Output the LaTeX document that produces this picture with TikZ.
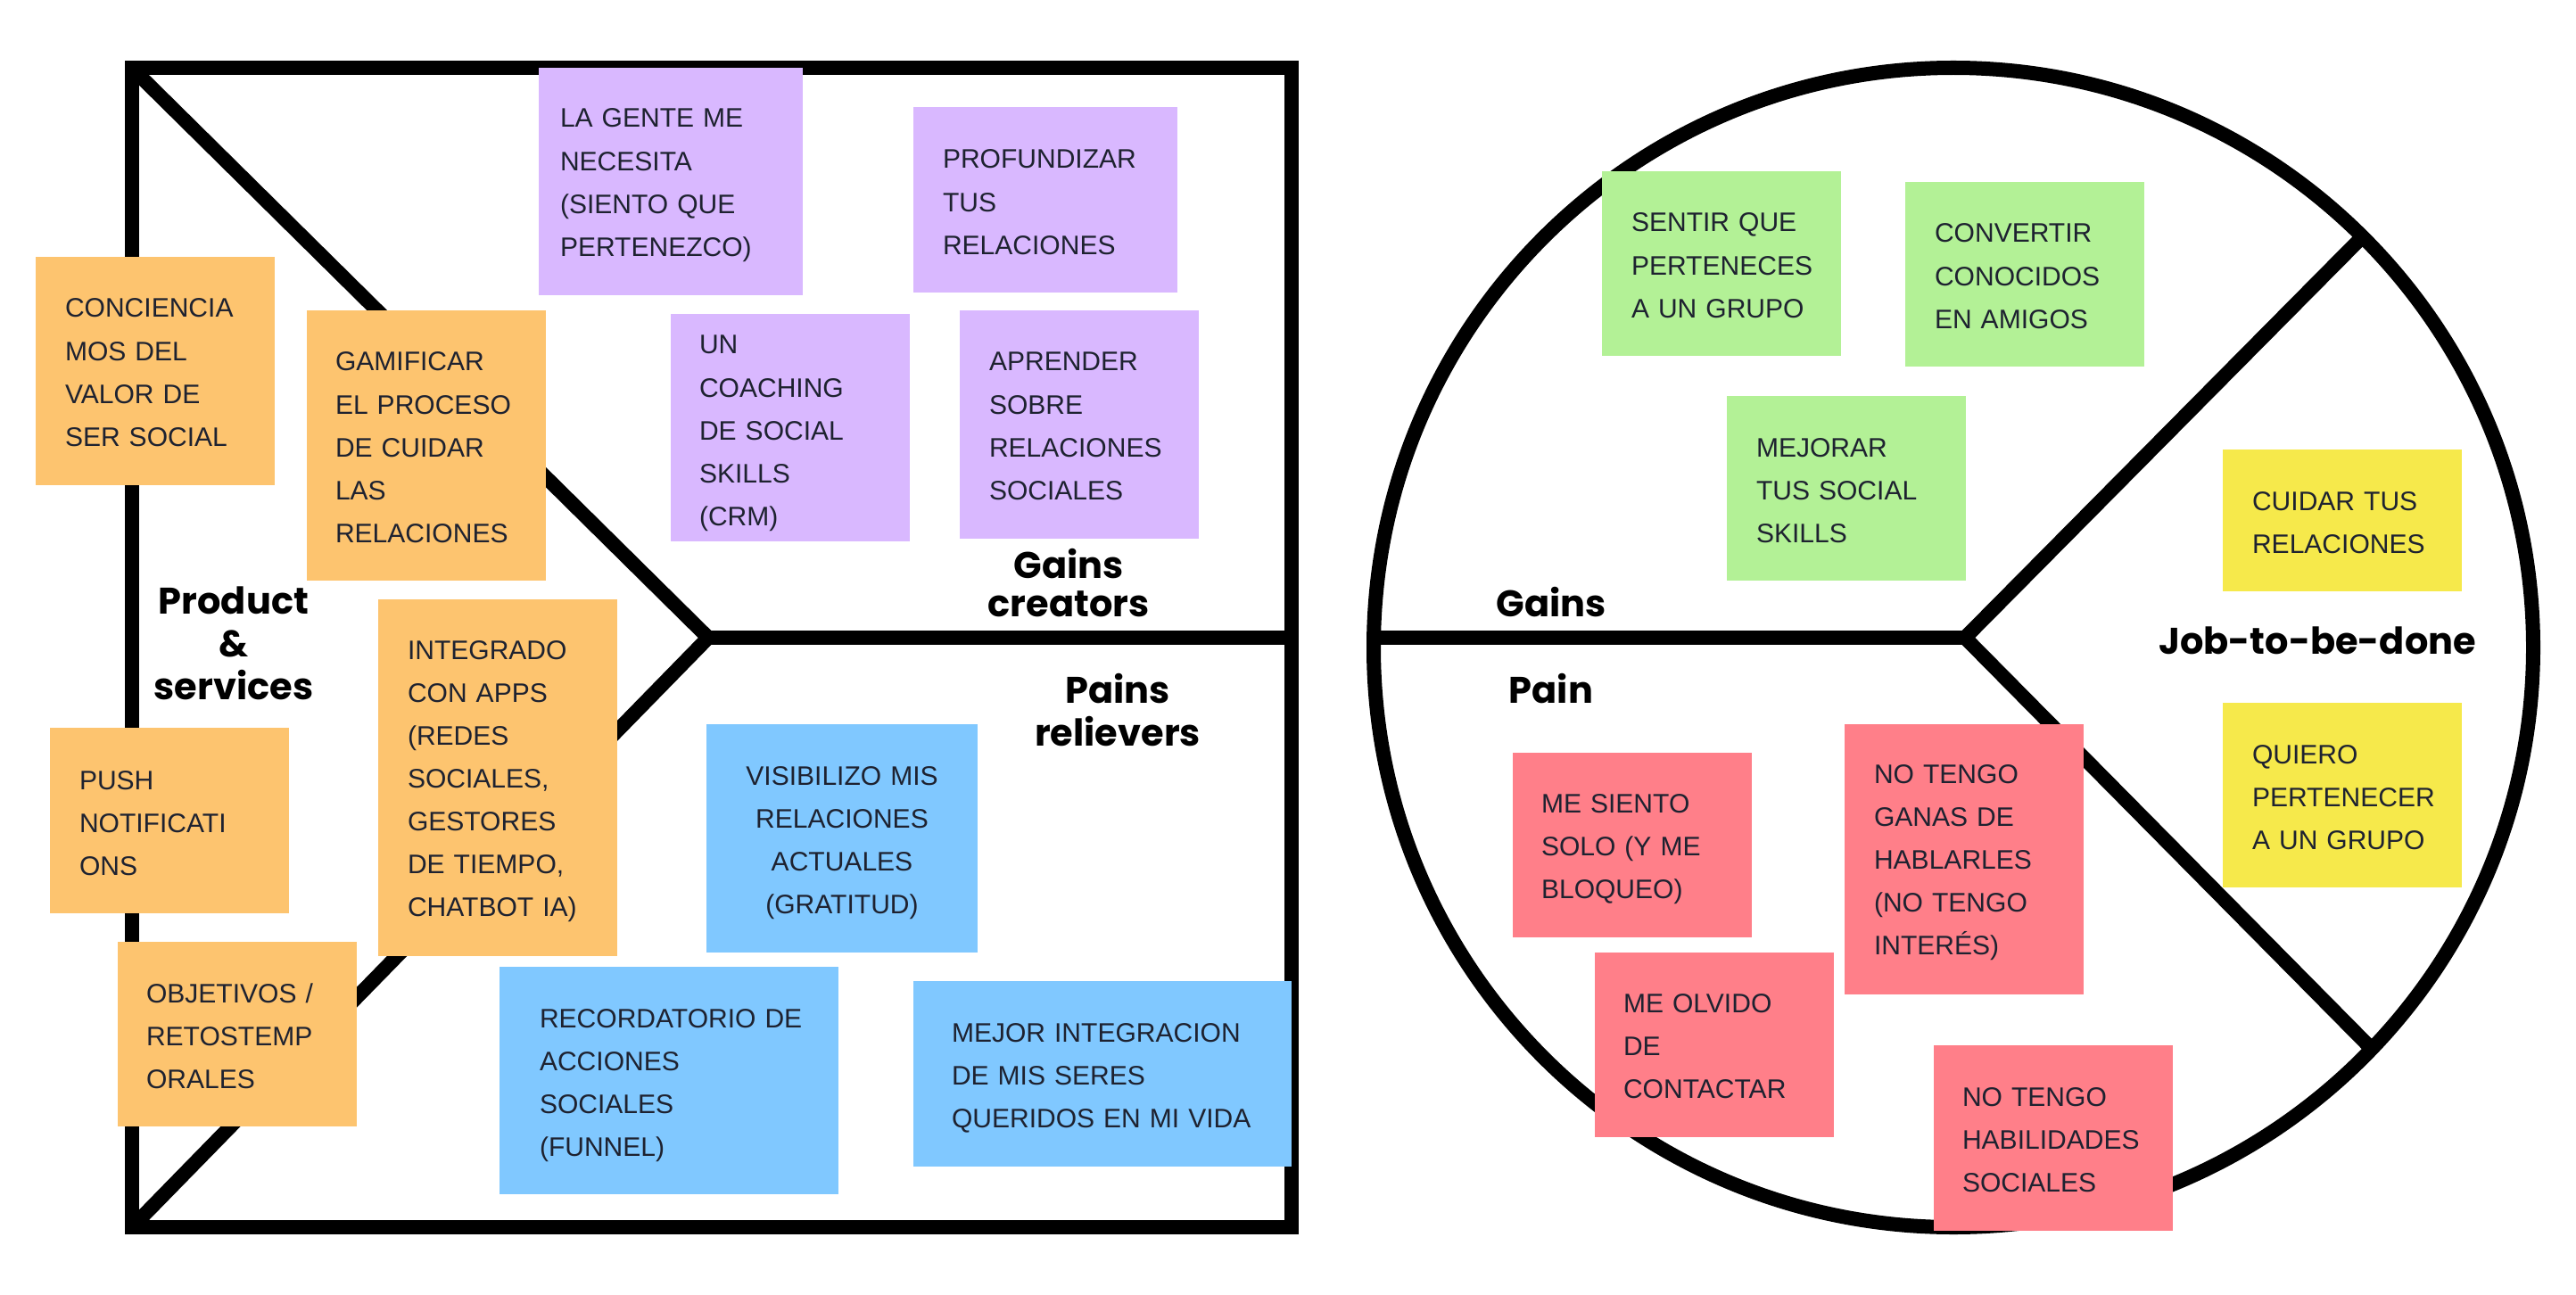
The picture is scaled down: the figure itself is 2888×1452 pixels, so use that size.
\documentclass[tikz,border=0pt]{standalone}
\usepackage{fontspec}
\setmainfont{Liberation Sans}
\newfontfamily\labelfont{Poppins}
\usetikzlibrary{fit}
\definecolor{orangenote}{HTML}{FDC46F}
\definecolor{purplenote}{HTML}{D9B8FF}
\definecolor{bluenote}{HTML}{80C8FF}
\definecolor{greennote}{HTML}{B3F196}
\definecolor{yellownote}{HTML}{F6E94B}
\definecolor{pinknote}{HTML}{FF7F89}
\definecolor{notecol}{HTML}{1E2230}
\newcommand\notefont{\fontsize{8.54pt}{13.66pt}\selectfont}
\newcommand\lblfont{\labelfont\bfseries\fontsize{11.8pt}{13.66pt}\selectfont}
\tikzset{
  notebox/.style={draw=none, inner sep=0pt, outer sep=0pt, rectangle},
  notetext/.style={inner sep=0pt, outer sep=0pt, text=notecol, font=\notefont,
    align=left, text width=4.6cm, anchor=base west},
  frame/.style={line width=0.16cm, draw=black, line join=miter},
  lbl/.style={inner sep=0pt, font=\lblfont, text=black},
  lblmulti/.style={lbl, align=center, text width=4cm, anchor=base},
}
\newcommand\sticky[9]{%
  \node[notebox, fill=#2, fit={(#3,#4) (#5,#6)}] (#1) {};
  \node[notetext] (#1-text) at (#7,#8) {#9};
}
\begin{document}
\begin{tikzpicture}[x=0.01cm,y=-0.01cm]
\fill[white] (0,0) rectangle (2888,1452);
\useasboundingbox (0,0) rectangle (2888,1452);
% ---------------- value map (square)
\coordinate (tl) at (148,76.5);
\coordinate (tr) at (1448,76.5);
\coordinate (br) at (1448,1376);
\coordinate (bl) at (148,1376);
\coordinate (vx) at (794,715);
\coordinate (mr) at (1448,715);
\draw[frame] (tl) -- (tr) -- (br) -- (bl) -- cycle;
\draw[frame] (tl) -- (vx) -- (bl);
\draw[frame] (vx) -- (mr);
% ---------------- customer profile (circle)
\coordinate (cc) at (2190,726);
\coordinate (cl) at (1540,715);
\coordinate (cv) at (2203,715);
\coordinate (cur) at (2646,268);
\coordinate (clr) at (2655,1172);
\draw[frame] (cc) circle[radius=650];
\draw[frame] (cl) -- (cv);
\draw[frame] (cur) -- (cv) -- (clr);
% ---------------- labels
\node[lblmulti] (lprod) at (262,688) {Product\\\&\\services};
\node[lblmulti, font=\labelfont\bfseries\fontsize{11.8pt}{12.3pt}\selectfont] (lgc) at (1198,648) {Gains\\creators};
\node[lblmulti] (lpr) at (1253,788) {Pains\\relievers};
\node[lbl, anchor=base west] (lgains) at (1677,691) {Gains};
\node[lbl, anchor=base west] (lpain) at (1691,788) {Pain};
\node[lbl, anchor=base] (ljob) at (2598,733) {Job-to-be-done};
% ---------------- orange notes
\sticky{o1}{orangenote}{40}{288}{308}{544}{73}{356}{CONCIENCIA\\MOS DEL\\VALOR DE\\SER SOCIAL}
\sticky{o2}{orangenote}{344}{348}{612}{651}{376}{416}{GAMIFICAR\\EL PROCESO\\DE CUIDAR\\LAS\\RELACIONES}
\sticky{o3}{orangenote}{424}{672}{692}{1072}{457}{739}{INTEGRADO\\CON APPS\\(REDES\\SOCIALES,\\GESTORES\\DE TIEMPO,\\CHATBOT IA)}
\sticky{o4}{orangenote}{56}{816}{324}{1024}{89}{885}{PUSH\\NOTIFICATI\\ONS}
\sticky{o5}{orangenote}{132}{1056}{400}{1263}{164}{1124}{OBJETIVOS /\\RETOSTEMP\\ORALES}
% ---------------- purple notes
\sticky{p1}{purplenote}{604}{76}{900}{331}{628}{143}{LA GENTE ME\\NECESITA\\(SIENTO QUE\\PERTENEZCO)}
\sticky{p2}{purplenote}{1024}{120}{1320}{328}{1057}{189}{PROFUNDIZAR\\TUS\\RELACIONES}
\sticky{p3}{purplenote}{752}{352}{1020}{607}{784}{397}{UN\\COACHING\\DE SOCIAL\\SKILLS\\(CRM)}
\sticky{p4}{purplenote}{1076}{348}{1344}{604}{1109}{416}{APRENDER\\SOBRE\\RELACIONES\\SOCIALES}
% ---------------- blue notes
\node[notebox, fill=bluenote, fit={(792,812) (1096,1068)}] (b1) {};
\node[notetext, align=center, anchor=base] (b1-text) at (944,880) {VISIBILIZO MIS\\RELACIONES\\ACTUALES\\(GRATITUD)};
\sticky{b2}{bluenote}{560}{1084}{940}{1339}{605}{1152}{RECORDATORIO DE\\ACCIONES\\SOCIALES\\(FUNNEL)}
\sticky{b3}{bluenote}{1024}{1100}{1448}{1308}{1067}{1168}{MEJOR INTEGRACION\\DE MIS SERES\\QUERIDOS EN MI VIDA}
% ---------------- green notes
\sticky{g1}{greennote}{1796}{192}{2064}{399}{1829}{260}{SENTIR QUE\\PERTENECES\\A UN GRUPO}
\sticky{g2}{greennote}{2136}{204}{2404}{411}{2169}{272}{CONVERTIR\\CONOCIDOS\\EN AMIGOS}
\sticky{g3}{greennote}{1936}{444}{2204}{651}{1969}{512}{MEJORAR\\TUS SOCIAL\\SKILLS}
% ---------------- yellow notes
\sticky{y1}{yellownote}{2492}{504}{2760}{663}{2525}{572}{CUIDAR TUS\\RELACIONES}
\sticky{y2}{yellownote}{2492}{788}{2760}{995}{2525}{856}{QUIERO\\PERTENECER\\A UN GRUPO}
% ---------------- pink notes
\sticky{r1}{pinknote}{1696}{844}{1964}{1051}{1728}{911}{ME SIENTO\\SOLO (Y ME\\BLOQUEO)}
\sticky{r2}{pinknote}{2068}{812}{2336}{1115}{2101}{878}{NO TENGO\\GANAS DE\\HABLARLES\\(NO TENGO\\INTERÉS)}
\sticky{r3}{pinknote}{1788}{1068}{2056}{1275}{1820}{1135}{ME OLVIDO\\DE\\CONTACTAR}
\sticky{r4}{pinknote}{2168}{1172}{2436}{1380}{2200}{1240}{NO TENGO\\HABILIDADES\\SOCIALES}
\end{tikzpicture}
\end{document}
